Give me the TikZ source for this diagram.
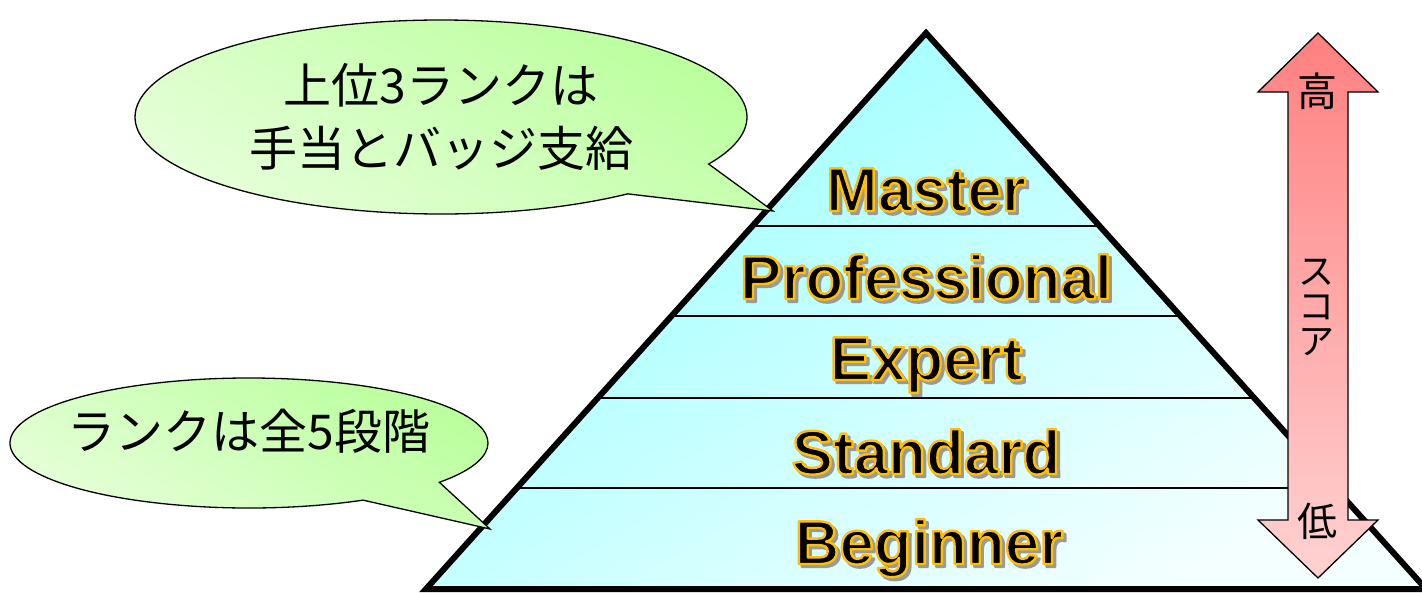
\documentclass[tikz,border=0pt]{standalone}
\usepackage{fontspec}
\usetikzlibrary{calc}
\newfontfamily\jpfont{Noto Sans CJK JP}
\newfontfamily\rankfont{Liberation Sans}
\definecolor{shadowgray}{HTML}{9A9A9A}
\definecolor{cyantop}{HTML}{99FFFF}
\definecolor{cyanbot}{HTML}{F4FFFF}
\definecolor{greentop}{HTML}{B9FF9B}
\definecolor{greenbot}{HTML}{E8FFDC}
\definecolor{redtop}{HTML}{FF8080}
\definecolor{redbot}{HTML}{FFD2D2}
% gold outline around black letters (text rendering mode 2 = fill + stroke)
\newcommand\rankgoldtext[1]{\special{pdf:literal direct 2 Tr 2.4 w 1 j 1 0.753 0 RG}#1\special{pdf:literal direct 0 Tr 0.4 w 0 j 0 G}}
% grey shadow, slightly fattened
\newcommand\rankshadetext[1]{\special{pdf:literal direct 2 Tr 2.4 w 1 j 0.6 G}#1\special{pdf:literal direct 0 Tr 0.4 w 0 j 0 G}}
\begin{document}
\begin{tikzpicture}[x=1pt,y=-1pt,
  rank/.style={font=\rankfont\bfseries\fontsize{62}{62}\selectfont, anchor=base, inner sep=0pt},
  rankshadow/.style={rank, text=shadowgray},
  callout/.style={draw=black, line width=1.3pt, top color=greentop, bottom color=greenbot, shading angle=-30},
  callouttext/.style={font=\jpfont\fontsize{48}{63}\selectfont, align=center, inner sep=0pt},
  band/.style={draw=black, line width=1.8pt},
  arrowtext/.style={font=\jpfont\fontsize{40}{40}\selectfont, inner sep=0pt},
  scoretext/.style={font=\jpfont\fontsize{36}{35}\selectfont, align=center, inner sep=0pt}
]
\useasboundingbox (0,0) rectangle (1422,592);
\clip (0,0) rectangle (1422,592);

% pyramid
\coordinate (A) at (926,33);
\coordinate (BL) at (426,589);
\coordinate (BR) at (1426,589);
\fill[top color=cyantop, bottom color=cyanbot, shading angle=30] (A) -- (BL) -- (BR) -- cycle;
\draw[band] ($(A)!0.3471!(BL)$) -- ($(A)!0.3471!(BR)$);
\draw[band] ($(A)!0.5090!(BL)$) -- ($(A)!0.5090!(BR)$);
\draw[band] ($(A)!0.6565!(BL)$) -- ($(A)!0.6565!(BR)$);
\draw[band] ($(A)!0.8183!(BL)$) -- ($(A)!0.8183!(BR)$);
\draw[line width=6pt, line join=miter] (A) -- (BL) -- (BR) -- cycle;

% rank labels (shadow, then text)
\node[rankshadow] (masterS) at (929,214) {\rankshadetext{Master}};
\node[rank] (master) at (926,211) {\rankgoldtext{Master}};
\node[rankshadow] (proS) at (929,302) {\rankshadetext{Professional}};
\node[rank] (pro) at (926,299) {\rankgoldtext{Professional}};
\node[rankshadow] (expS) at (929,383) {\rankshadetext{Expert}};
\node[rank] (exp) at (926,380) {\rankgoldtext{Expert}};
\node[rankshadow] (stdS) at (929,477) {\rankshadetext{Standard}};
\node[rank] (std) at (926,474) {\rankgoldtext{Standard}};
\node[rankshadow] (begS) at (932,567) {\rankshadetext{Beginner}};
\node[rank] (beg) at (929,564) {\rankgoldtext{Beginner}};

% callout 1
\coordinate (c1) at (441,117);
\coordinate (t1) at (773,211);
\draw[callout] ($(c1)+(52.4:306 and 97)$) arc[start angle=52.4, end angle=389, x radius=306, y radius=97] -- (t1) -- cycle;
\node[callouttext] (txt1) at (441,117) {上位3ランクは\\手当とバッジ支給};

% callout 2
\coordinate (c2) at (249,443);
\coordinate (t2) at (490,529);
\draw[callout] ($(c2)+(61.5:239 and 65)$) arc[start angle=61.5, end angle=397.2, x radius=239, y radius=65] -- (t2) -- cycle;
\node[callouttext] (txt2) at (249,431) {ランクは全5段階};

% score arrow
\draw[line width=1.3pt, top color=redtop, bottom color=redbot]
  (1318,33) -- (1378,92) -- (1348,92) -- (1348,520) -- (1378,520) -- (1318,578)
  -- (1258,520) -- (1288,520) -- (1288,92) -- (1258,92) -- cycle;
\node[arrowtext] (high) at (1317,91) {高};
\node[arrowtext] (low) at (1317,521) {低};
\node[scoretext] (score) at (1316,307) {ス\\コ\\ア};
\end{tikzpicture}
\end{document}
